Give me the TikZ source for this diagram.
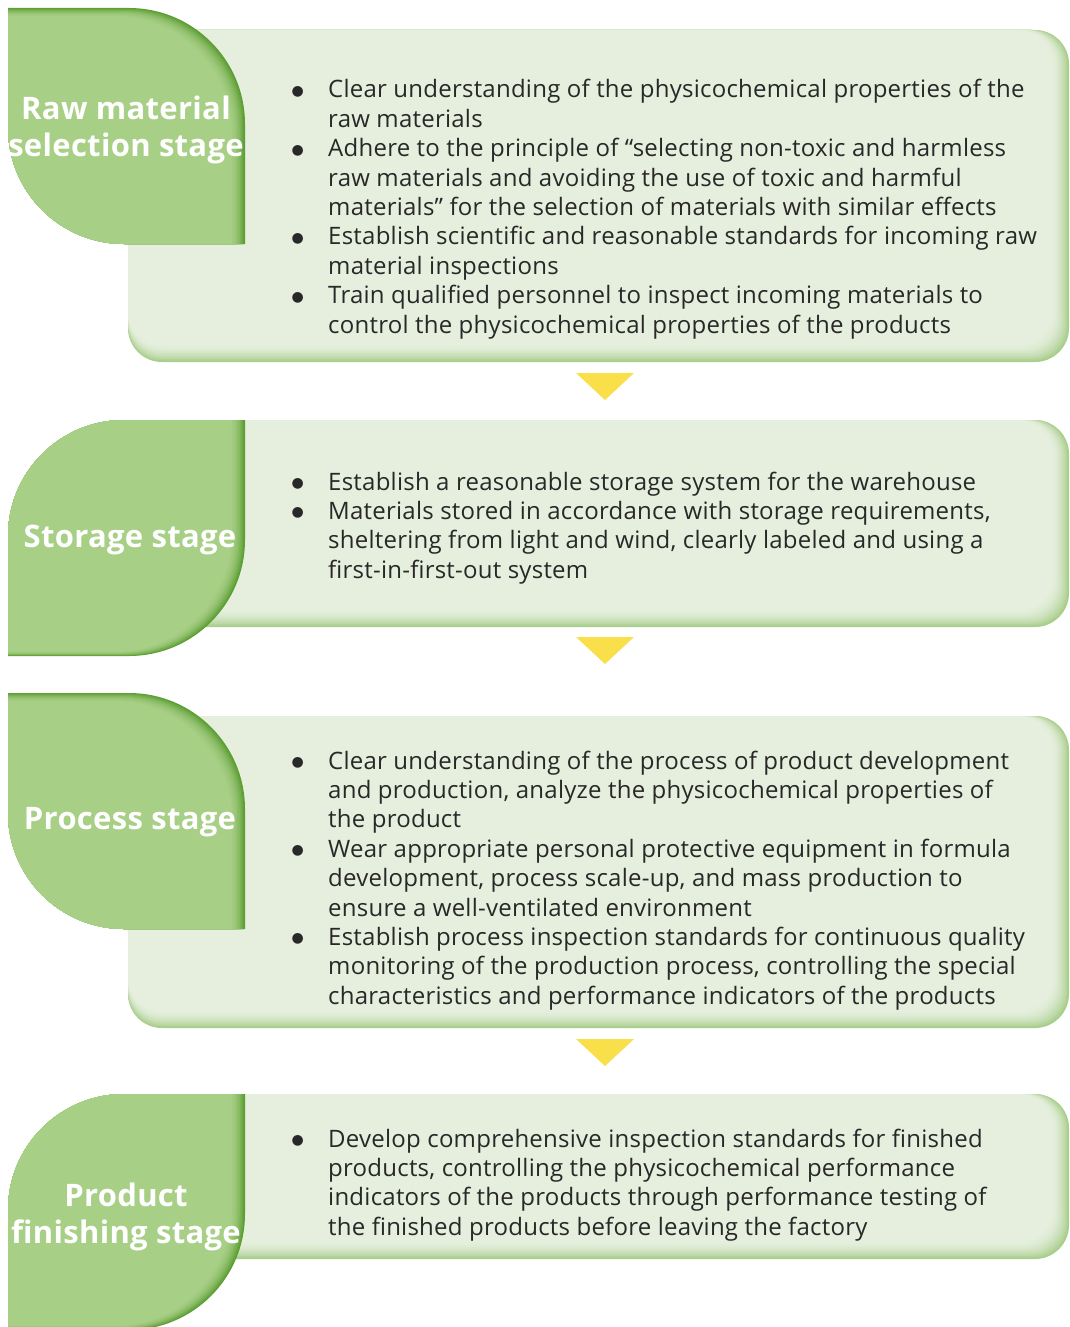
\documentclass[tikz,border=0pt]{standalone}
\usepackage{fontspec}
\setmainfont{Open Sans}
\newfontfamily\bodyface[LetterSpace=1.0]{Open Sans}
\newfontfamily\titleface[LetterSpace=1.0]{Open Sans Bold}
\newfontfamily\symface{DejaVu Sans}
\definecolor{leafL}{RGB}{168,207,134}
\definecolor{leafD}{RGB}{92,158,52}
\definecolor{boxL}{RGB}{230,239,222}
\definecolor{boxD}{RGB}{168,206,140}
\definecolor{arrowY}{RGB}{249,224,74}
\definecolor{txt}{RGB}{40,40,40}
\newcommand\bul{\makebox[38pt][l]{\hspace*{1.5pt}\raisebox{2.5pt}{\symface\fontsize{14}{14}\selectfont ●}}}
\newcommand\ind{\hspace*{38pt}}
% light content box with shading on right and bottom
\newcommand\lightbox[4]{%
  \foreach \i in {0,...,12}{%
    \pgfmathsetmacro\s{\i*1.5}%
    \pgfmathtruncatemacro\p{100*(1-(1-\i/12)^2)}%
    \fill[boxL!\p!boxD, rounded corners=34pt] (#1,#2) rectangle ({#3-\s},{#4-\s});
  }}
% leaf A: TL sharp, TR round, BR sharp, BL round
\newcommand\leafA[4]{%
  \foreach \i in {0,...,12}{%
    \pgfmathsetmacro\s{\i*1.3}%
    \pgfmathsetmacro\xa{#1}\pgfmathsetmacro\ya{#2+0.6*\s}%
    \pgfmathsetmacro\xb{#3-\s}\pgfmathsetmacro\yb{#4}%
    \pgfmathtruncatemacro\p{100*(1-(1-\i/12)^2)}%
    \fill[leafL!\p!leafD] (\xa,\ya) -- ({\xb-116},\ya) .. controls ({\xb-52},\ya) and (\xb,{\ya+52}) .. (\xb,{\ya+116})
      -- (\xb,\yb) -- ({\xa+116},\yb) .. controls ({\xa+52},\yb) and (\xa,{\yb-52}) .. (\xa,{\yb-116}) -- cycle;
  }}
% leaf B: TL round, TR sharp, BR round, BL sharp
\newcommand\leafB[4]{%
  \foreach \i in {0,...,12}{%
    \pgfmathsetmacro\s{\i*1.3}%
    \pgfmathsetmacro\xa{#1}\pgfmathsetmacro\ya{#2}%
    \pgfmathsetmacro\xb{#3-\s}\pgfmathsetmacro\yb{#4-0.3*\s}%
    \pgfmathtruncatemacro\p{100*(1-(1-\i/12)^2)}%
    \fill[leafL!\p!leafD] (\xa,{\ya+116}) .. controls (\xa,{\ya+52}) and ({\xa+52},\ya) .. ({\xa+116},\ya)
      -- (\xb,\ya) -- (\xb,{\yb-116}) .. controls (\xb,{\yb-52}) and ({\xb-52},\yb) .. ({\xb-116},\yb) -- (\xa,\yb) -- cycle;
  }}
\tikzset{
  title/.style={text=white, font=\titleface\fontsize{31}{37}\selectfont, align=center, inner sep=0},
  body/.style={text=txt, anchor=base west, inner sep=0},
  arrowtri/.style={fill=arrowY},
}
\newcommand\bodyfont{\bodyface\fontsize{24}{29.4}\selectfont}
\begin{document}
\begin{tikzpicture}[x=1pt,y=-1pt]
\useasboundingbox (0,0) rectangle (1070,1327);
\clip (0,0) rectangle (1070,1327);
\fill[white] (0,0) rectangle (1070,1327);

% panel 1
\lightbox{128}{30}{1069}{362}
\leafA{8}{8}{245}{244}
\node[title] (t1) at (126,130) {Raw material\\selection stage};
\node[body] (b1) at (290,98) {\parbox[t]{770pt}{\bodyfont\raggedright
\bul Clear understanding of the physicochemical properties of the\\
\ind raw materials\\
\bul Adhere to the principle of “selecting non-toxic and harmless\\
\ind raw materials and avoiding the use of toxic and harmful\\
\ind materials” for the selection of materials with similar effects\\
\bul Establish scientific and reasonable standards for incoming raw\\
\ind material inspections\\
\bul Train qualified personnel to inspect incoming materials to\\
\ind control the physicochemical properties of the products}};

\fill[arrowtri] (576,373) -- (634,373) -- (605,400) -- cycle;

% panel 2
\lightbox{128}{420}{1069}{627}
\leafB{8}{420}{245}{656}
\node[title] (t2) at (130,540) {Storage stage};
\node[body] (b2) at (290,490) {\parbox[t]{770pt}{\bodyfont\raggedright
\bul Establish a reasonable storage system for the warehouse\\
\bul Materials stored in accordance with storage requirements,\\
\ind sheltering from light and wind, clearly labeled and using a\\
\ind first-in-first-out system}};

\fill[arrowtri] (576,637) -- (634,637) -- (605,664) -- cycle;

% panel 3
\lightbox{128}{716}{1069}{1028}
\leafA{8}{693}{245}{929}
\node[title] (t3) at (130,822) {Process stage};
\node[body] (b3) at (290,769) {\parbox[t]{770pt}{\bodyfont\raggedright
\bul Clear understanding of the process of product development\\
\ind and production, analyze the physicochemical properties of\\
\ind the product\\
\bul Wear appropriate personal protective equipment in formula\\
\ind development, process scale-up, and mass production to\\
\ind ensure a well-ventilated environment\\
\bul Establish process inspection standards for continuous quality\\
\ind monitoring of the production process, controlling the special\\
\ind characteristics and performance indicators of the products}};

\fill[arrowtri] (576,1039) -- (634,1039) -- (605,1066) -- cycle;

% panel 4
\lightbox{128}{1094}{1069}{1259}
\leafB{8}{1094}{245}{1330}
\node[title] (t4) at (126,1217) {Product\\finishing stage};
\node[body] (b4) at (290,1147) {\parbox[t]{770pt}{\bodyfont\raggedright
\bul Develop comprehensive inspection standards for finished\\
\ind products, controlling the physicochemical performance\\
\ind indicators of the products through performance testing of\\
\ind the finished products before leaving the factory}};
\end{tikzpicture}
\end{document}
